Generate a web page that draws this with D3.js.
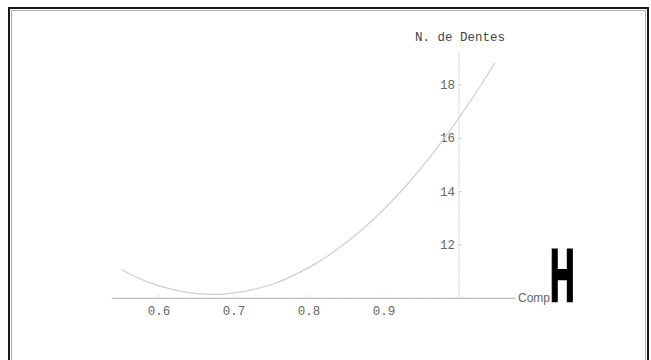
<!DOCTYPE html>
<html><head><meta charset="utf-8">
<script src="https://cdn.jsdelivr.net/npm/d3@7"></script>
<style>html,body{margin:0;padding:0;background:#fff;}svg{display:block;}</style>
</head><body>
<svg id="c" width="651" height="360"></svg>
<script>
// Data
const compValues = [0.55,0.57,0.59,0.61,0.63,0.65,0.67,0.69,0.71,0.73,0.75,0.77,0.79,0.81,0.83,0.85,0.87,0.89,0.91,0.93,0.95,0.97,0.99,1.01,1.03,1.048];
const dentesValues = [11.07,10.79,10.56,10.39,10.26,10.18,10.15,10.17,10.24,10.36,10.52,10.74,11.01,11.32,11.69,12.10,12.56,13.07,13.63,14.24,14.90,15.61,16.37,17.18,18.03,18.84];
const xTicks = [0.6,0.7,0.8,0.9];
const yTicks = [12,14,16,18];
const xMinor = [0.54,0.56,0.58,0.62,0.64,0.66,0.68,0.72,0.74,0.76,0.78,0.82,0.84,0.86,0.88,0.92,0.94,0.96,0.98,1.02,1.04,1.06];
const yMinor = [10.5,11,11.5,12.5,13,13.5,14.5,15,15.5,16.5,17,17.5,18.5];
const xLabel = "Comp";
const yLabel = "N. de Dentes";
const originX = 1.0, originY = 10;

const svg = d3.select("#c");
// frame
svg.append("rect").attr("x",9).attr("y",8).attr("width",639).attr("height",400)
  .attr("fill","none").attr("stroke","#1a1a1a").attr("stroke-width",2);
svg.append("rect").attr("x",11.5).attr("y",10.5).attr("width",634).attr("height",400)
  .attr("fill","none").attr("stroke","#b0b0b0").attr("stroke-width",1);

const x = d3.scaleLinear().domain([0.6,0.9]).range([159,384]);
const y = d3.scaleLinear().domain([12,18]).range([245,85]);

// x axis line
svg.append("line").attr("x1",x(0.537)).attr("x2",x(1.075)).attr("y1",y(originY)).attr("y2",y(originY))
  .attr("stroke","#aaa").attr("stroke-width",1);
// y axis line
svg.append("line").attr("x1",x(originX)).attr("x2",x(originX)).attr("y1",y(originY)).attr("y2",y(19.2))
  .attr("stroke","#ddd").attr("stroke-width",1);

const mono = "'Liberation Mono','DejaVu Sans Mono',monospace";
svg.selectAll(".xt").data(xTicks).join("line")
  .attr("x1",d=>x(d)).attr("x2",d=>x(d)).attr("y1",y(originY)).attr("y2",y(originY)-4)
  .attr("stroke","#e2e2e2");
svg.selectAll(".xm").data(xMinor).join("line")
  .attr("x1",d=>x(d)).attr("x2",d=>x(d)).attr("y1",y(originY)).attr("y2",y(originY)-2)
  .attr("stroke","#eee");
svg.selectAll(".xl").data(xTicks).join("text")
  .attr("x",d=>x(d)).attr("y",y(originY)+17).attr("text-anchor","middle")
  .attr("font-family",mono).attr("font-size",12.5).attr("fill","#666")
  .text(d=>d3.format(".1f")(d));
svg.selectAll(".yt").data(yTicks).join("line")
  .attr("x1",x(originX)).attr("x2",x(originX)+3).attr("y1",d=>y(d)).attr("y2",d=>y(d))
  .attr("stroke","#ccc");
svg.selectAll(".ym").data(yMinor).join("line")
  .attr("x1",x(originX)).attr("x2",x(originX)+2).attr("y1",d=>y(d)).attr("y2",d=>y(d))
  .attr("stroke","#eee");
svg.selectAll(".yl").data(yTicks).join("text")
  .attr("x",x(originX)-4).attr("y",d=>y(d)+4).attr("text-anchor","end")
  .attr("font-family",mono).attr("font-size",12.5).attr("fill","#666")
  .text(d=>d);

// labels
svg.append("text").attr("x",x(originX)+1).attr("y",41).attr("text-anchor","middle")
  .attr("font-family",mono).attr("font-size",12.5).attr("fill","#444").text(yLabel);
svg.append("text").attr("x",518).attr("y",302)
  .attr("font-family","'Liberation Sans',Arial,sans-serif").attr("font-size",12).attr("fill","#666").text(xLabel);
svg.append("text").attr("transform","translate(550,301) scale(0.46,1)")
  .attr("font-family","'Liberation Sans',Arial,sans-serif").attr("font-weight","bold")
  .attr("font-size",74).attr("fill","#000").attr("stroke","#000").attr("stroke-width",2.5)
  .text("H");

// curve
const line = d3.line().x(d=>x(d[0])).y(d=>y(d[1])).curve(d3.curveCatmullRom);
svg.append("path").datum(compValues.map((c,i)=>[c,dentesValues[i]]))
  .attr("d",line).attr("fill","none").attr("stroke","#cfcfcf").attr("stroke-width",1.2);
</script>
</body></html>
